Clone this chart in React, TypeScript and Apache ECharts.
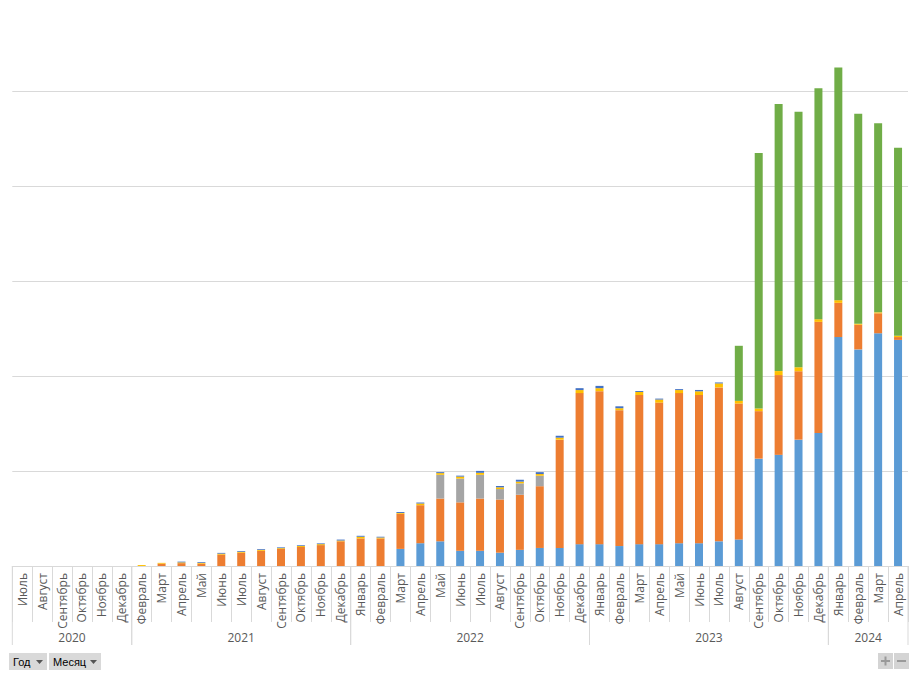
import React, { useEffect, useRef } from "react";
import * as echarts from "echarts";

const months2020 = ["Июль", "Август", "Сентябрь", "Октябрь", "Ноябрь", "Декабрь"];
const months2021 = ["Февраль", "Март", "Апрель", "Май", "Июнь", "Июль", "Август", "Сентябрь", "Октябрь", "Ноябрь", "Декабрь"];
const months2022 = ["Январь", "Февраль", "Март", "Апрель", "Май", "Июнь", "Июль", "Август", "Сентябрь", "Октябрь", "Ноябрь", "Декабрь"];
const months2023 = ["Январь", "Февраль", "Март", "Апрель", "Май", "Июнь", "Июль", "Август", "Сентябрь", "Октябрь", "Ноябрь", "Декабрь"];
const months2024 = ["Январь", "Февраль", "Март", "Апрель"];

const yearLabels = ["2020", "2021", "2022", "2023", "2024"];
const yearMonths = [months2020, months2021, months2022, months2023, months2024];
const categories = [...months2020, ...months2021, ...months2022, ...months2023, ...months2024];

const seriesBlue = [
  0, 0, 0, 0, 0, 0,
  0, 0, 0, 0, 0, 0, 0, 0, 0, 0, 0,
  0, 0, 18, 24, 26, 16, 16, 14, 17, 19, 19, 23,
  23, 21, 23, 23, 24, 24, 26, 28, 113, 117, 133, 140,
  241, 228, 245, 238,
];
const seriesOrange = [
  0, 0, 0, 0, 0, 0,
  0, 2.5, 3, 2.5, 12, 14, 16, 18, 20, 22, 26,
  29, 29, 37, 40, 45, 51, 55, 56, 58, 65, 114, 159,
  161, 143, 157, 149, 158, 156, 162, 143, 50, 84, 72, 117,
  36, 26, 21, 3,
];
const seriesGray = [
  0, 0, 0, 0, 0, 0,
  0, 0, 0, 0, 0, 0, 0, 0, 0, 0, 0,
  0, 0, 0, 0, 25, 25, 25, 11, 12, 11, 0, 0,
  0, 0, 0, 0, 0, 0, 0, 0, 0, 0, 0, 0,
  0, 0, 0, 0,
];
const seriesYellow = [
  0, 0, 0, 0, 0, 0,
  1, 0.8, 0.8, 0.8, 1, 1, 1, 0.8, 1, 1, 0.8,
  1.8, 1, 0.8, 1.8, 1.8, 2.1, 2.1, 1.8, 1.8, 1.8, 2.1, 3.2,
  3.2, 2.1, 3.2, 3.2, 3.2, 3.9, 4.2, 2.8, 2.8, 4.2, 4.2, 2.8,
  2.8, 1, 1, 1.4,
];
const seriesDarkBlue = [
  0, 0, 0, 0, 0, 0,
  0, 0, 0.8, 0.8, 0.8, 0.8, 0.8, 0.8, 0.8, 0.8, 1,
  1, 0.8, 1, 1, 1, 1, 2, 1.4, 2, 2, 2, 2,
  2.4, 2, 1, 1, 1, 1.4, 1, 0, 0, 0, 0, 0,
  0, 0, 0, 0,
];
const seriesGreen = [
  0, 0, 0, 0, 0, 0,
  0, 0, 0, 0, 0, 0, 0, 0, 0, 0, 0,
  0, 0, 0, 0, 0, 0, 0, 0, 0, 0, 0, 0,
  0, 0, 0, 0, 0, 0, 0, 58, 269, 281, 269, 243,
  245, 221, 199, 198,
];

const seriesNames = ["Ряд 1", "Ряд 2", "Ряд 3", "Ряд 4", "Ряд 5", "Ряд 6"];
const seriesData = [seriesBlue, seriesOrange, seriesGray, seriesYellow, seriesDarkBlue, seriesGreen];
const colors = ["#5B9BD5", "#ED7D31", "#A5A5A5", "#FFC000", "#4472C4", "#70AD47"];

const FONT = "'Open Sans', 'Noto Sans', sans-serif";
const BTN_FONT = "'Liberation Sans', 'DejaVu Sans', sans-serif";

export default function App() {
  const ref = useRef<HTMLDivElement>(null);

  useEffect(() => {
    if (!ref.current) return;
    const chart = echarts.init(ref.current, undefined, { renderer: "svg" });

    // year groups: [startIndex, endIndex]
    const yearData: number[][] = [];
    let idx = 0;
    yearMonths.forEach((m) => {
      yearData.push([idx, idx + m.length - 1]);
      idx += m.length;
    });

    const barSeries = seriesData.map((d, i) => ({
      name: seriesNames[i],
      type: "bar",
      stack: "total",
      data: d,
      barWidth: 8,
      itemStyle: { color: colors[i] },
      emphasis: { disabled: true },
    }));

    const arrow = (x: number, y: number) => ({
      type: "polygon",
      shape: { points: [[x, y], [x + 7, y], [x + 3.5, y + 4]] },
      style: { fill: "#555555" },
    });

    const option: any = {
      animation: false,
      backgroundColor: "#ffffff",
      grid: { left: 12.3, right: 11, top: 0, bottom: 109, containLabel: false },
      xAxis: {
        type: "category",
        data: categories,
        axisLine: { show: true, lineStyle: { color: "#D9D9D9", width: 1 } },
        axisTick: { show: true, interval: 0, length: 56, lineStyle: { color: "#D9D9D9" } },
        axisLabel: {
          interval: 0,
          rotate: 90,
          margin: 7,
          color: "#595959",
          fontSize: 12,
          fontFamily: FONT,
        },
      },
      yAxis: {
        type: "value",
        min: 0,
        max: 595.8,
        interval: 100,
        axisLine: { show: false },
        axisTick: { show: false },
        axisLabel: { show: false },
        splitLine: { show: true, showMaxLine: false, lineStyle: { color: "#D9D9D9", width: 1 } },
      },
      series: [
        ...barSeries,
        {
          type: "custom",
          name: "years",
          clip: false,
          silent: true,
          data: yearData,
          encode: { x: [0, 1] },
          renderItem: (params: any, api: any) => {
            const s = api.value(0);
            const e = api.value(1);
            const bw = api.size([1, 0])[0];
            const p0 = api.coord([s, 0]);
            const p1 = api.coord([e, 0]);
            const x0 = p0[0] - bw / 2;
            const x1 = p1[0] + bw / 2;
            const y = p0[1];
            return {
              type: "group",
              children: [
                { type: "line", shape: { x1: x0, y1: y, x2: x0, y2: y + 79 }, style: { stroke: "#D9D9D9", lineWidth: 1 } },
                { type: "line", shape: { x1: x1, y1: y, x2: x1, y2: y + 79 }, style: { stroke: "#D9D9D9", lineWidth: 1 } },
                {
                  type: "text",
                  style: {
                    text: yearLabels[params.dataIndex],
                    x: (x0 + x1) / 2,
                    y: y + 71,
                    align: "center",
                    verticalAlign: "middle",
                    fill: "#595959",
                    font: `12px ${FONT}`,
                  },
                },
              ],
            };
          },
        },
      ],
      graphic: [
        { type: "rect", shape: { x: 9, y: 653, width: 38, height: 17 }, style: { fill: "#D9D9D9" } },
        { type: "text", style: { text: "Год", x: 13, y: 662, verticalAlign: "middle", fill: "#000000", font: `11px ${BTN_FONT}` } },
        arrow(36, 660),
        { type: "rect", shape: { x: 49, y: 653, width: 52, height: 17 }, style: { fill: "#D9D9D9" } },
        { type: "text", style: { text: "Месяц", x: 53, y: 662, verticalAlign: "middle", fill: "#000000", font: `11px ${BTN_FONT}` } },
        arrow(90, 660),
        { type: "rect", shape: { x: 878, y: 653, width: 15, height: 16 }, style: { fill: "#D4D4D4" } },
        { type: "rect", shape: { x: 894, y: 653, width: 15, height: 16 }, style: { fill: "#D4D4D4" } },
        { type: "rect", shape: { x: 881, y: 660, width: 9, height: 2 }, style: { fill: "#9A9A9A" } },
        { type: "rect", shape: { x: 884.5, y: 656.5, width: 2, height: 9 }, style: { fill: "#9A9A9A" } },
        { type: "rect", shape: { x: 897, y: 660, width: 9, height: 2 }, style: { fill: "#9A9A9A" } },
      ],
    };

    chart.setOption(option);
    return () => chart.dispose();
  }, []);

  return (
    <div
      ref={ref}
      style={{ position: "fixed", left: 0, top: 0, width: 919, height: 675, background: "#fff" }}
    />
  );
}
